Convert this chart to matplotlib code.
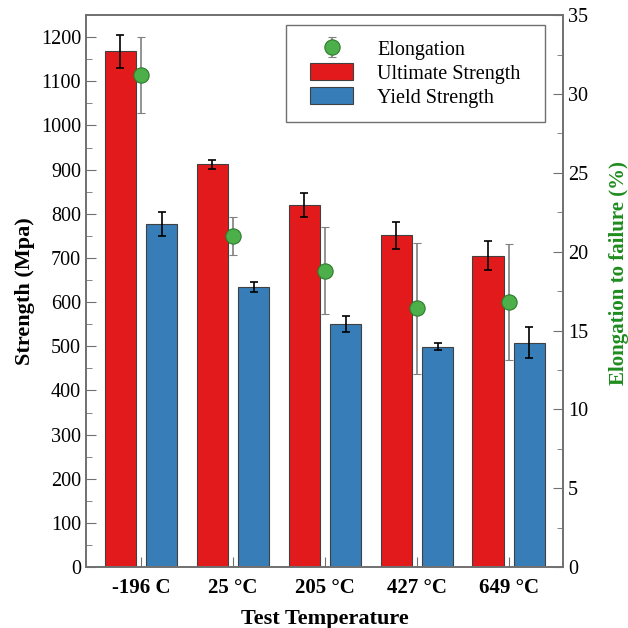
import numpy as np
import matplotlib.pyplot as plt
from matplotlib.patches import Rectangle
from matplotlib.ticker import MultipleLocator

plt.rcParams['font.family'] = ['Liberation Serif', 'DejaVu Serif']

# data
temps = ['-196 C', '25 °C', '205 °C', '427 °C', '649 °C']
ultimate = [1168, 912, 820, 751, 705]
ultimate_err = [37, 10, 28, 30, 33]
yield_s = [776, 634, 551, 499, 508]
yield_err = [27, 12, 18, 8, 35]
elong = [31.2, 21.0, 18.8, 16.4, 16.8]
elong_err = [2.4, 1.2, 2.75, 4.15, 3.7]

red = '#E31A1C'
blue = '#377EB8'
green = '#4DAF4A'
spine_col = '#707070'

x = np.arange(len(temps))
w = 0.34
off = 0.225

fig = plt.figure(figsize=(6.28, 6.28), dpi=100)
ax = fig.add_axes([0.137, 0.097, 0.7595, 0.879])

b1 = ax.bar(x - off, ultimate, w, color=red, edgecolor='#404040', linewidth=0.8,
            label='Ultimate Strength', zorder=2)
ax.errorbar(x - off, ultimate, yerr=ultimate_err, fmt='none', ecolor='black',
            elinewidth=1.2, capsize=3, capthick=1.2, zorder=3)
b2 = ax.bar(x + off, yield_s, w, color=blue, edgecolor='#404040', linewidth=0.8,
            label='Yield Strength', zorder=2)
ax.errorbar(x + off, yield_s, yerr=yield_err, fmt='none', ecolor='black',
            elinewidth=1.2, capsize=3, capthick=1.2, zorder=3)

ax.set_xlim(-0.6, 4.59)
ax.set_ylim(0, 1250)
ax.yaxis.set_major_locator(MultipleLocator(100))
ax.yaxis.set_minor_locator(MultipleLocator(50))
ax.set_xticks(x)
ax.set_xticklabels(temps, fontweight='bold', fontsize=15)
ax.set_xticks(np.concatenate([x - off, x + off]), minor=True)
ax.tick_params(axis='x', which='major', direction='in', length=7, color=spine_col, pad=8)
ax.tick_params(axis='x', which='minor', direction='in', length=4, color=spine_col)
ax.tick_params(axis='y', which='major', direction='in', length=7, color=spine_col, labelsize=14.5, right=False)
ax.tick_params(axis='y', which='minor', direction='in', length=4, color=spine_col, right=False)
ax.set_ylabel('Strength (Mpa)', fontsize=16, fontweight='bold')
ax.set_xlabel('Test Temperature', fontsize=16, fontweight='bold', labelpad=8)

ax2 = ax.twinx()
e = ax2.errorbar(x, elong, yerr=elong_err, fmt='o', color=green, markersize=11,
                 markeredgecolor='#2f7a2d', markeredgewidth=0.8, ecolor='#808080',
                 elinewidth=1.2, capsize=3, capthick=1.2, label='Elongation', zorder=4)
ax2.set_ylim(0, 35)
ax2.yaxis.set_major_locator(MultipleLocator(5))
ax2.yaxis.set_minor_locator(MultipleLocator(2.5))
ax2.tick_params(axis='y', which='major', direction='in', length=7, color=spine_col, labelsize=14.5)
ax2.tick_params(axis='y', which='minor', direction='in', length=4, color=spine_col)
ax2.set_ylabel('Elongation to failure (%)', fontsize=15, fontweight='bold', color='#1E8C1E')
ax2.yaxis.set_label_coords(1.097, 0.533)

for a in (ax, ax2):
    for s in a.spines.values():
        s.set_color(spine_col)
        s.set_linewidth(1.2)

leg = ax2.legend([e, b1, b2], ['Elongation', 'Ultimate Strength', 'Yield Strength'],
                 loc='upper right', bbox_to_anchor=(0.942, 0.982), fontsize=14.5,
                 frameon=False, borderpad=0.72, handlelength=2.15,
                 handleheight=0.9, handletextpad=1.2, labelspacing=0.18, borderaxespad=0)

# legend frame a bit wider than the default one
fig.canvas.draw()
bb = leg.get_window_extent()
dx = 9.5
frame = Rectangle((bb.x0 - dx, bb.y0), bb.width + 2 * dx, bb.height, transform=None,
                  fill=False, edgecolor=spine_col, linewidth=1.0, zorder=5)
fig.add_artist(frame)

fig.savefig('out.png', dpi=100)
